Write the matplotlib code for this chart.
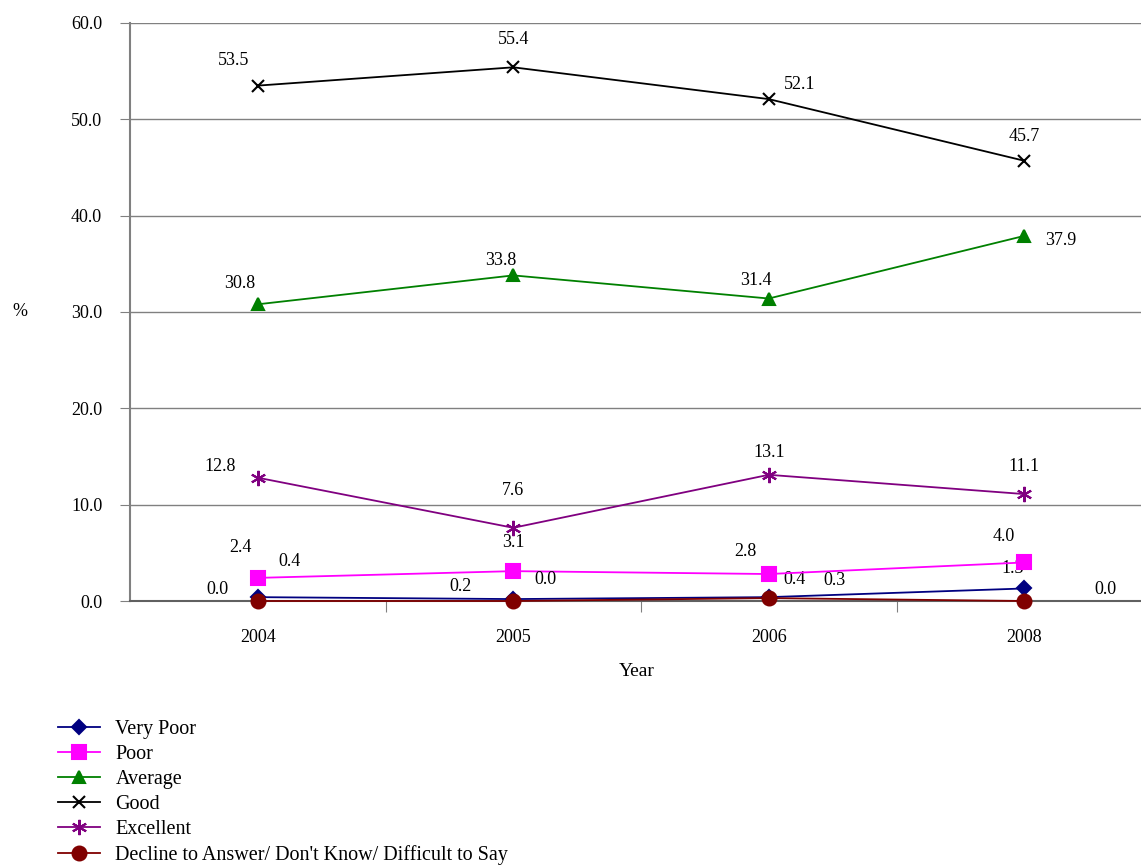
import matplotlib.pyplot as plt

years = ["2004", "2005", "2006", "2008"]
very_poor = [0.4, 0.2, 0.4, 1.3]
poor = [2.4, 3.1, 2.8, 4.0]
average = [30.8, 33.8, 31.4, 37.9]
good = [53.5, 55.4, 52.1, 45.7]
excellent = [12.8, 7.6, 13.1, 11.1]
decline = [0.0, 0.0, 0.3, 0.0]
labels = ["Very Poor", "Poor", "Average", "Good", "Excellent",
          "Decline to Answer/ Don't Know/ Difficult to Say"]

plt.rcParams['font.family'] = ['Liberation Serif', 'DejaVu Serif']

fig = plt.figure(figsize=(11.41, 8.65), dpi=100)
ax = fig.add_axes([130 / 1141, 264 / 865, 1022 / 1141, 578 / 865])

x = [i + 0.5 for i in range(len(years))]

# values, colour, marker, size, label offsets (pixels)
series = [
    (very_poor, '#000080', 'D', 7, [(32, 36), (-53, 13), (26, 18), (-12, 20)]),
    (poor, '#FF00FF', 's', 10, [(-17, 30), (0, 29), (-23, 23), (-21, 26)]),
    (average, '#008000', '^', 9, [(-18, 21), (-13, 15), (-13, 18), (36, -5)]),
    (good, '#000000', 'x', 9, [(-24, 25), (0, 28), (31, 15), (0, 24)]),
    (excellent, '#800080', (6, 2, 0), 11, [(-38, 11), (0, 37), (0, 22), (0, 28)]),
    (decline, '#800000', 'o', 10, [(-40, 11), (32, 21), (66, 18), (81, 11)]),
]

handles = []
for (vals, col, mk, ms, offs), lab in zip(series, labels):
    ln, = ax.plot(x, vals, color=col, marker=mk, markersize=ms, lw=1.3,
                  markeredgewidth=1.5, label=lab, clip_on=False, zorder=3)
    handles.append(ln)
    for xi, v, (dx, dy) in zip(x, vals, offs):
        ax.annotate(f"{v:.1f}", (xi, v), xytext=(dx, dy), textcoords='offset pixels',
                    ha='center', va='center', fontsize=13)

ax.set_xlim(0, 4)
ax.set_ylim(0, 60)
ax.set_yticks(range(0, 61, 10))
ax.set_yticklabels([f"{v:.1f}" for v in range(0, 61, 10)], fontsize=13)
ax.yaxis.grid(True, color='#808080', lw=1)
ax.set_axisbelow(True)

ax.set_xticks([1, 2, 3])
ax.set_xticklabels([])
ax.set_xticks(x, minor=True)
ax.set_xticklabels(years, minor=True, fontsize=13)
ax.tick_params(axis='x', which='major', direction='out', length=8, color='#808080')
ax.tick_params(axis='x', which='minor', length=0, pad=20)
ax.tick_params(axis='y', direction='out', length=7, color='#808080', pad=13)

for s in ['top', 'right']:
    ax.spines[s].set_visible(False)
ax.spines['left'].set_color('#808080')
ax.spines['left'].set_linewidth(1.5)
ax.spines['bottom'].set_color('#606060')
ax.spines['bottom'].set_linewidth(1.5)

fig.text(20 / 1141, 1 - 312 / 865, "%", fontsize=13, ha='center', va='center')
fig.text(637 / 1141, 1 - 672 / 865, "Year", fontsize=14, ha='center', va='center')

fig.legend(handles=handles, loc='upper left', bbox_to_anchor=(58 / 1141, 1 - 720 / 865),
           frameon=False, fontsize=14.5, handlelength=2.1, handletextpad=0.75,
           labelspacing=0.29, borderpad=0, borderaxespad=0)

fig.savefig("out.png", dpi=100)
